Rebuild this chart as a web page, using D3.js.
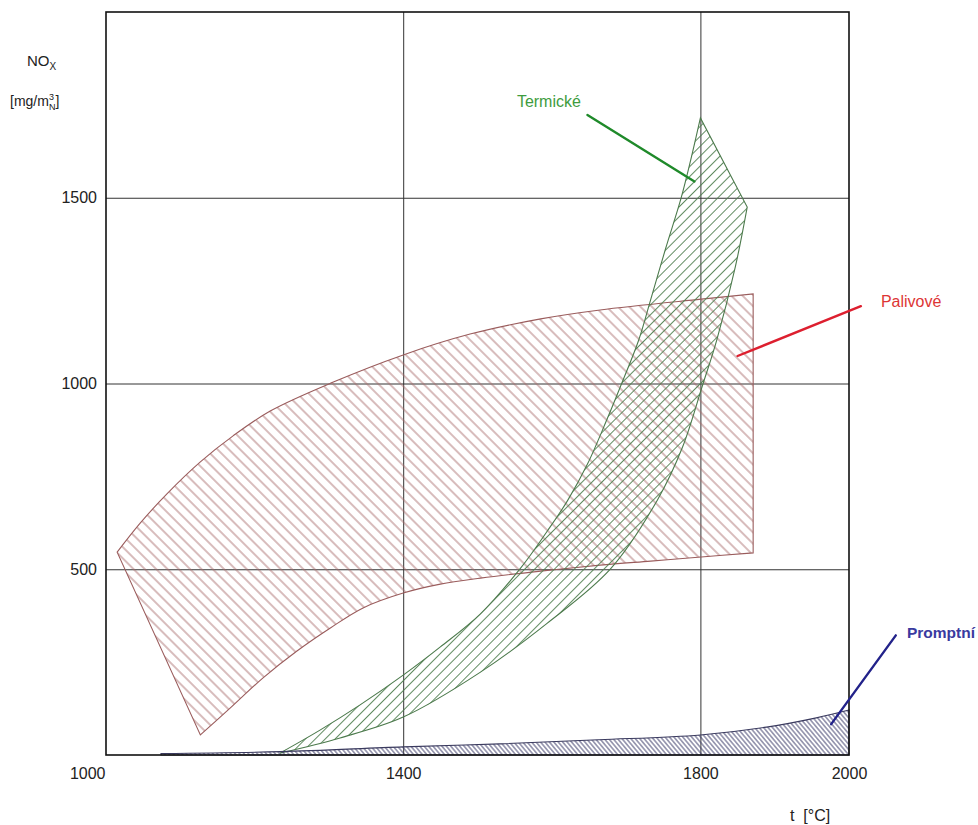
<!DOCTYPE html>
<html>
<head>
<meta charset="utf-8">
<script src="https://cdn.jsdelivr.net/npm/d3@7"></script>
<style>
  html, body { margin: 0; padding: 0; background: #fff; }
  svg { display: block; font-family: "Liberation Sans", Arial, sans-serif; }
</style>
</head>
<body>
<svg id="chart" width="978" height="825"></svg>
<script>
// ---- data (t [°C], NOx [mg/m3N]) ----
const xTicks = [1000, 1400, 1800, 2000];
const yTicks = [500, 1000, 1500];
const xGrid = [1400, 1800];
const yGrid = [500, 1000, 1500];

// Palivové (fuel NOx) band
const palivoveUpper = [[1015,546],[1046,624],[1082,703],[1127,789],[1171,859],[1221,926],[1306,1004],[1400,1077],[1490,1133],[1585,1174],[1665,1198],[1801,1227],[1871,1241]];
const palivoveLower = [[1871,544],[1801,533],[1733,522],[1665,511],[1585,495],[1504,476],[1450,460],[1400,436],[1346,396],[1302,342],[1257,280],[1211,207],[1167,126],[1127,54]];

// Termické (thermal NOx) band
const termickeLeft = [[1234,5],[1288,67],[1342,135],[1400,215],[1450,291],[1504,380],[1558,503],[1594,603],[1621,684],[1648,783],[1675,907],[1692,990],[1717,1117],[1733,1225],[1753,1362],[1774,1499],[1787,1602],[1800,1715]];
const termickeRight = [[1863,1475],[1847,1314],[1822,1117],[1803,996],[1776,829],[1742,686],[1679,501],[1594,355],[1504,223],[1400,102],[1315,46],[1234,5]];

// Promptní (prompt NOx) band, bounded below by the axis
const promptniTop = [[1074,4],[1235,9],[1400,22],[1530,30],[1664,41],[1800,54],[1889,75],[1956,100],[2000,121]];

// labels and leader lines
const labelNames = ["Termické", "Palivové", "Promptní"];
const labelPos = [[1553,1745],[2043,1205],[2078,314]];
const leaderFrom = [[1648,1723],[2016,1208],[2063,322]];
const leaderTo = [[1792,1544],[1850,1074],[1976,83]];

// ---- layout ----
const svg = d3.select("#chart");
const x = d3.scaleLinear().domain([1000, 2000]).range([106, 849]);
const y = d3.scaleLinear().domain([0, 2000]).range([755, 12]);

// hatch patterns
const defs = svg.append("defs");
function hatch(id, spacing, angle, color, width) {
  const p = defs.append("pattern")
    .attr("id", id)
    .attr("patternUnits", "userSpaceOnUse")
    .attr("width", spacing).attr("height", spacing)
    .attr("patternTransform", `rotate(${angle})`);
  p.append("line")
    .attr("x1", spacing / 2).attr("y1", -1)
    .attr("x2", spacing / 2).attr("y2", spacing + 1)
    .attr("stroke", color).attr("stroke-width", width);
}
hatch("hPal", 8, -45, "#a86a6a", 0.9);
hatch("hTer", 7, 45, "#4f7f4f", 0.9);
hatch("hPro", 3.4, -40, "#3c3c6a", 0.9);

// grid
svg.append("g")
  .attr("transform", `translate(0,${y(0)})`)
  .call(d3.axisBottom(x).tickValues(xGrid).tickSize(y(2000) - y(0)).tickFormat(""))
  .call(g => g.select(".domain").remove())
  .call(g => g.selectAll("line").attr("stroke", "#333").attr("stroke-width", 1));
svg.append("g")
  .attr("transform", `translate(${x(1000)},0)`)
  .call(d3.axisLeft(y).tickValues(yGrid).tickSize(x(1000) - x(2000)).tickFormat(""))
  .call(g => g.select(".domain").remove())
  .call(g => g.selectAll("line").attr("stroke", "#333").attr("stroke-width", 1));

// path builders
const curve = d3.line().x(d => x(d[0])).y(d => y(d[1])).curve(d3.curveCatmullRom.alpha(0.5));
const cont = pts => curve(pts).replace(/^M/, "L");

const palPath = curve(palivoveUpper) + cont(palivoveLower) + "Z";
const terPath = curve(termickeLeft) + cont(termickeRight) + "Z";
const proPath = curve(promptniTop) + `L${x(2000)},${y(0)}L${x(promptniTop[0][0])},${y(0)}Z`;

const regions = [
  { d: palPath, fill: "url(#hPal)", stroke: "#9a5c5c" },
  { d: terPath, fill: "url(#hTer)", stroke: "#4c7a4c" },
  { d: proPath, fill: "url(#hPro)", stroke: "#3a3a5e" }
];
svg.append("g").selectAll("path").data(regions).join("path")
  .attr("d", d => d.d)
  .attr("fill", d => d.fill)
  .attr("stroke", d => d.stroke)
  .attr("stroke-width", 1.1)
  .attr("stroke-linejoin", "miter");

// frame
svg.append("rect")
  .attr("x", x(1000)).attr("y", y(2000))
  .attr("width", x(2000) - x(1000)).attr("height", y(0) - y(2000))
  .attr("fill", "none").attr("stroke", "#111").attr("stroke-width", 1.6);

// tick labels
svg.append("g")
  .attr("transform", `translate(${x(1000) - 9},0)`)
  .call(d3.axisLeft(y).tickValues(yTicks).tickSize(0).tickPadding(0).tickFormat(d3.format("d")))
  .call(g => g.select(".domain").remove())
  .call(g => g.selectAll("text").attr("font-size", 16).attr("fill", "#222")
                .attr("font-family", "'Liberation Sans', Arial, sans-serif"));
svg.append("g")
  .attr("transform", `translate(0,${y(0) + 10})`)
  .call(d3.axisBottom(x).tickValues(xTicks).tickSize(0).tickPadding(0).tickFormat(d3.format("d")))
  .call(g => g.select(".domain").remove())
  .call(g => g.selectAll("text").attr("font-size", 16).attr("fill", "#222")
                .attr("font-family", "'Liberation Sans', Arial, sans-serif")
                .attr("text-anchor", d => d === 1000 ? "end" : "middle")
                .attr("dx", d => d === 1000 ? "-1" : "0")
                .attr("dy", "0.85em"));

// axis titles
const yt = svg.append("text").attr("x", 27).attr("y", 66).attr("font-size", 15).attr("fill", "#222");
yt.append("tspan").text("NO");
yt.append("tspan").attr("font-size", 10).attr("dy", 4).text("X");
const yu = svg.append("text").attr("x", 10).attr("y", 106).attr("font-size", 14).attr("fill", "#222");
yu.append("tspan").text("[mg/m");
yu.append("tspan").attr("font-size", 9).attr("dy", -6).text("3");
yu.append("tspan").attr("font-size", 9).attr("dx", -5).attr("dy", 10).text("N");
yu.append("tspan").attr("dy", -4).text("]");
svg.append("text").attr("x", 790).attr("y", 821).attr("font-size", 16).attr("fill", "#222")
  .attr("xml:space", "preserve").text("t  [°C]");

// labels and leaders
const labelColors = ["#3e9c3e", "#dd3535", "#3a3aa0"];
const leaderColors = ["#1f8a2a", "#dd1f2f", "#22228a"];
svg.append("g").selectAll("line").data(labelNames).join("line")
  .attr("x1", (d, i) => x(leaderFrom[i][0])).attr("y1", (d, i) => y(leaderFrom[i][1]))
  .attr("x2", (d, i) => x(leaderTo[i][0])).attr("y2", (d, i) => y(leaderTo[i][1]))
  .attr("stroke", (d, i) => leaderColors[i]).attr("stroke-width", 2.4).attr("stroke-linecap", "round");
svg.append("g").selectAll("text").data(labelNames).join("text")
  .attr("x", (d, i) => x(labelPos[i][0])).attr("y", (d, i) => y(labelPos[i][1]))
  .attr("font-size", (d, i) => i === 2 ? 15.5 : 16).attr("fill", (d, i) => labelColors[i])
  .attr("font-weight", (d, i) => i === 2 ? "bold" : "normal")
  .text(d => d);
</script>
</body>
</html>
